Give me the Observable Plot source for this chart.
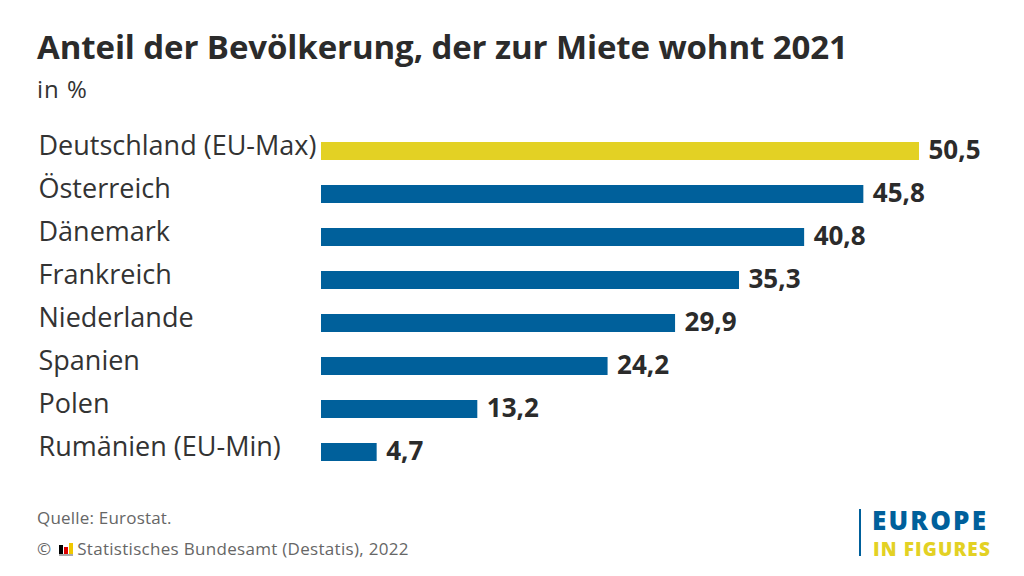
<!DOCTYPE html>
<html>
<head>
<meta charset="utf-8">
<script src="https://cdn.jsdelivr.net/npm/d3@7"></script>
<script src="https://cdn.jsdelivr.net/npm/@observablehq/plot@0.6"></script>
<style>
  html, body { margin: 0; padding: 0; background: #fff; }
  #page { position: relative; width: 1024px; height: 576px; overflow: hidden; font-family: "Open Sans", "Noto Sans", sans-serif; color: #333; }
  #title { position: absolute; left: 37px; top: 24px; font-size: 33px; font-weight: 700; color: #2b2b2b; white-space: nowrap; letter-spacing: -0.1px; }
  #subtitle { position: absolute; left: 37px; top: 72px; font-size: 24px; color: #333; letter-spacing: 1px; }
  #chart { position: absolute; left: 0; top: 113px; }
  #source { position: absolute; left: 37px; top: 506px; font-size: 17px; color: #666; letter-spacing: 0.2px; }
  #copy { position: absolute; left: 37px; top: 537px; font-size: 17px; color: #666; white-space: nowrap; letter-spacing: 0.3px; }
  #logo-line { position: absolute; left: 859px; top: 509px; width: 2px; height: 47px; background: #00609b; }
  #logo1 { position: absolute; left: 872px; top: 502px; font-size: 26px; font-weight: 800; color: #00609b; letter-spacing: 2.2px; }
  #logo2 { position: absolute; left: 873px; top: 536px; font-size: 19px; font-weight: 800; color: #e3d124; letter-spacing: 1.1px; }
  .flag { display: inline-block; vertical-align: -1px; width: 14px; height: 13px; position: relative; margin: 0 4px 0 3px; }
  .flag span { position: absolute; bottom: 2px; width: 4px; }
</style>
</head>
<body>
<div id="page">
  <div id="title">Anteil der Bevölkerung, der zur Miete wohnt 2021</div>
  <div id="subtitle">in %</div>
  <div id="chart"></div>
  <div id="source">Quelle: Eurostat.</div>
  <div id="copy">© <span class="flag"><span style="left:0;height:9px;background:#000"></span><span style="left:5px;height:7px;background:#d00"></span><span style="left:10px;height:11px;background:#f0c800"></span><span style="left:0;bottom:0;width:14px;height:2px;background:#aaa"></span></span>Statistisches Bundesamt (Destatis), 2022</div>
  <div id="logo-line"></div>
  <div id="logo1">EUROPE</div>
  <div id="logo2">IN FIGURES</div>
</div>
<script>
const countries = ["Deutschland (EU-Max)", "Österreich", "Dänemark", "Frankreich", "Niederlande", "Spanien", "Polen", "Rumänien (EU-Min)"];
const values = [50.5, 45.8, 40.8, 35.3, 29.9, 24.2, 13.2, 4.7];
const highlight = ["Deutschland (EU-Max)"];

const data = countries.map((c, i) => ({country: c, value: values[i], hi: highlight.includes(c)}));
const fmt = v => v.toFixed(1).replace(".", ",");

const chart = Plot.plot({
  width: 1024,
  height: 376,
  marginLeft: 321,
  marginRight: 105,
  marginTop: 0,
  marginBottom: 0,
  style: {fontFamily: '"Open Sans", "Noto Sans", sans-serif', background: "transparent", overflow: "visible"},
  x: {domain: [0, 50.5], axis: null},
  y: {domain: countries, padding: 0.59, axis: null},
  marks: [
    Plot.barX(data, {x: "value", y: "country", fill: d => d.hi ? "#e3d124" : "#00609b"}),
    Plot.text(data, {x: "value", y: "country", text: d => fmt(d.value), textAnchor: "start", dx: 9, dy: -1, fontSize: 26, fontWeight: 700, fill: "#2b2b2b", style: {letterSpacing: "1.2px"}}),
    Plot.text(data, {y: "country", text: "country", frameAnchor: "left", textAnchor: "start", dx: -283, dy: -5, fontSize: 27, fill: "#333", style: {letterSpacing: "1.5px"}})
  ]
});
document.getElementById("chart").appendChild(chart);
</script>
</body>
</html>
